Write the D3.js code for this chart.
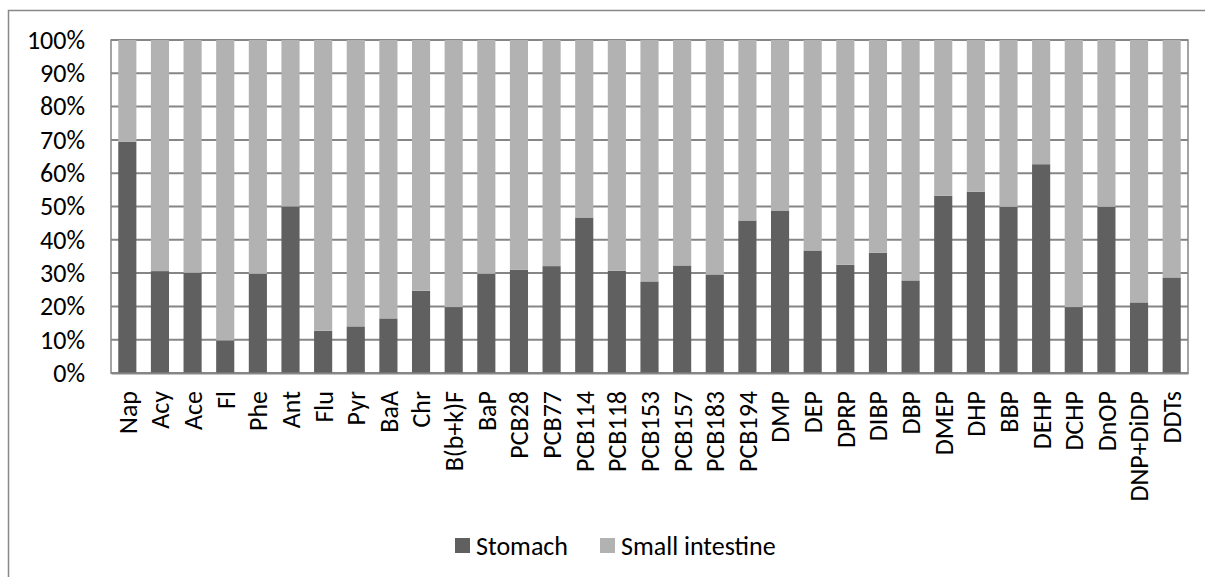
<!DOCTYPE html>
<html>
<head>
<meta charset="utf-8">
<script src="https://cdn.jsdelivr.net/npm/d3@7"></script>
<style>
  html, body { margin: 0; padding: 0; background: #fff; }
  svg { display: block; }
  text { font-family: Carlito, Lato, "Open Sans", sans-serif; }
</style>
</head>
<body>
<svg id="chart" width="1205" height="577"></svg>
<script>
const categories = ["Nap","Acy","Ace","Fl","Phe","Ant","Flu","Pyr","BaA","Chr","B(b+k)F","BaP",
  "PCB28","PCB77","PCB114","PCB118","PCB153","PCB157","PCB183","PCB194",
  "DMP","DEP","DPRP","DIBP","DBP","DMEP","DHP","BBP","DEHP","DCHP","DnOP","DNP+DiDP","DDTs"];
const stomach = [69.5,30.6,30.1,9.8,29.8,50.0,12.7,14.0,16.4,24.7,19.8,29.8,
  31.0,32.1,46.7,30.7,27.5,32.3,29.6,45.8,
  48.8,36.8,32.5,36.1,27.8,53.2,54.4,49.9,62.7,19.8,49.9,21.2,28.7];
const smallIntestine = stomach.map(v => 100 - v);
const seriesNames = ["Stomach", "Small intestine"];
const seriesColors = ["#606060", "#b2b2b2"];
const yTicks = [0,10,20,30,40,50,60,70,80,90,100];

const svg = d3.select("#chart");
const plot = {left: 111, right: 1188, top: 40, bottom: 373};
const FS = 26;

// outer chart frame (only top and left visible in the crop)
svg.append("rect").attr("x", 8.5).attr("y", 10.5).attr("width", 1220).attr("height", 600)
  .attr("fill", "none").attr("stroke", "#888").attr("stroke-width", 1.5);

const x = d3.scaleBand().domain(categories).range([plot.left, plot.right])
  .paddingInner(0.8/1.8).paddingOuter(0.4/1.8);
const y = d3.scaleLinear().domain([0, 100]).range([plot.bottom, plot.top]);

// gridlines
svg.append("g").selectAll("line").data(yTicks).join("line")
  .attr("x1", plot.left).attr("x2", plot.right)
  .attr("y1", d => y(d)).attr("y2", d => y(d))
  .attr("stroke", "#868686").attr("stroke-width", 2);

// plot area border
svg.append("rect").attr("x", plot.left).attr("y", plot.top)
  .attr("width", plot.right - plot.left).attr("height", plot.bottom - plot.top)
  .attr("fill", "none").attr("stroke", "#868686").attr("stroke-width", 1.5);

const data = categories.map((c, i) => ({cat: c, Stomach: stomach[i], "Small intestine": smallIntestine[i]}));
const stack = d3.stack().keys(seriesNames)(data);

svg.append("g").selectAll("g").data(stack).join("g")
  .attr("fill", (d, i) => seriesColors[i])
  .selectAll("rect").data(d => d).join("rect")
  .attr("x", d => x(d.data.cat))
  .attr("width", x.bandwidth())
  .attr("y", d => y(d[1]))
  .attr("height", d => y(d[0]) - y(d[1]));

// y axis
const yAxis = d3.axisLeft(y).tickValues(yTicks).tickFormat(d => d + "%").tickSize(0).tickPadding(26);
const yg = svg.append("g").attr("transform", `translate(${plot.left},0)`).call(yAxis);
yg.select(".domain").remove();
yg.selectAll("text").attr("font-size", FS).attr("fill", "#000")
  .attr("font-family", "Carlito, Lato, sans-serif");

// x axis
const xAxis = d3.axisBottom(x).tickSize(0);
const xg = svg.append("g").attr("transform", `translate(0,${plot.bottom})`).call(xAxis);
xg.select(".domain").attr("stroke", "#868686").attr("stroke-width", 2);
xg.selectAll("text")
  .attr("font-size", FS).attr("fill", "#000")
  .attr("font-family", "Carlito, Lato, sans-serif")
  .attr("transform", "rotate(-90)")
  .attr("text-anchor", "end")
  .attr("x", -18).attr("y", 0).attr("dy", "0.36em");

// legend
const legend = svg.append("g");
const legendX = [455, 600];
seriesNames.forEach((name, i) => {
  const g = legend.append("g").attr("transform", `translate(${legendX[i]},538)`);
  g.append("rect").attr("width", 15).attr("height", 15).attr("fill", seriesColors[i]);
  g.append("text").attr("x", 21).attr("y", 7.5).attr("dy", "0.36em")
    .attr("font-size", FS).attr("fill", "#000").text(name);
});
</script>
</body>
</html>
